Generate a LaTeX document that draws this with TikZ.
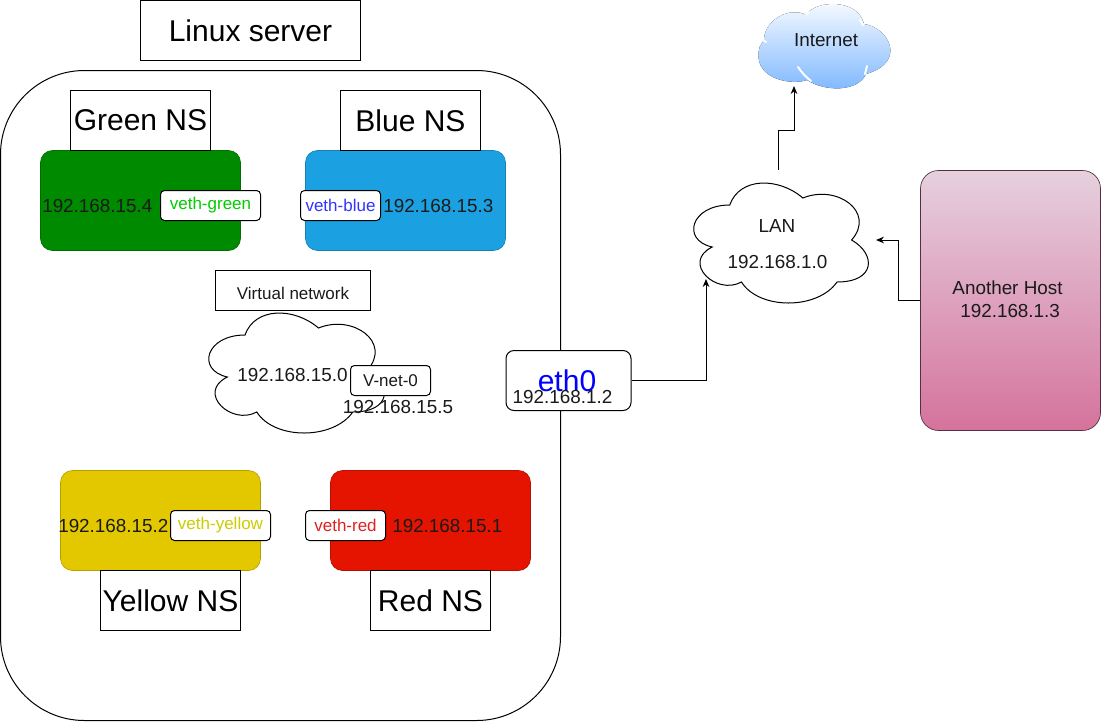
\documentclass[tikz,border=0pt]{standalone}
\usepackage{fontspec}
\setmainfont{Liberation Sans}
\usetikzlibrary{arrows.meta}
\definecolor{txt}{HTML}{1A1A1A}
\tikzset{
 x=0.75pt,y=-0.75pt,
 ln/.style={draw=black,line width=0.75pt},
 lbl/.style={text=txt,inner sep=0pt,font=\fontsize{14.15pt}{17pt}\selectfont},
 small/.style={font=\fontsize{12.75pt}{15pt}\selectfont},
 titlebox/.style={ln,fill=white,minimum width=#1*0.75pt,minimum height=45pt,inner sep=0pt,font=\fontsize{22.5pt}{26pt}\selectfont},
 ns/.style={draw=#1!80!black,line width=0.5pt,fill=#1,rounded corners=9pt},
 veth/.style={ln,fill=white,rounded corners=3pt,minimum width=60pt,minimum height=22.5pt,inner sep=0pt,small},
 arr/.style={ln,-{Stealth[length=6pt,width=5pt]}}
}
\definecolor{nsgreen}{HTML}{008A00}
\definecolor{nsblue}{HTML}{1BA1E2}
\definecolor{nsyellow}{HTML}{E3C800}
\definecolor{nsred}{HTML}{E51400}
\definecolor{inkblue}{HTML}{0000FF}
\definecolor{cloudtop}{HTML}{FBFDFF}
\definecolor{cloudbot}{HTML}{7DB7FF}
\definecolor{pinktop}{HTML}{E6D0DE}
\definecolor{pinkbot}{HTML}{D5739D}
% cloud path: #1 x0, #2 y0, #3 w, #4 h
\newcommand{\cloudpath}[4]{
 ({#1+.25*#3},{#2+.25*#4})
 .. controls ({#1+.05*#3},{#2+.25*#4}) and ({#1},{#2+.5*#4}) .. ({#1+.16*#3},{#2+.55*#4})
 .. controls ({#1},{#2+.66*#4}) and ({#1+.18*#3},{#2+.9*#4}) .. ({#1+.31*#3},{#2+.8*#4})
 .. controls ({#1+.4*#3},{#2+#4}) and ({#1+.7*#3},{#2+#4}) .. ({#1+.8*#3},{#2+.8*#4})
 .. controls ({#1+#3},{#2+.8*#4}) and ({#1+#3},{#2+.6*#4}) .. ({#1+.875*#3},{#2+.5*#4})
 .. controls ({#1+#3},{#2+.3*#4}) and ({#1+.8*#3},{#2+.1*#4}) .. ({#1+.625*#3},{#2+.2*#4})
 .. controls ({#1+.5*#3},{#2+.05*#4}) and ({#1+.3*#3},{#2+.05*#4}) .. ({#1+.25*#3},{#2+.25*#4}) -- cycle}
\begin{document}
\begin{tikzpicture}
\useasboundingbox (0,0) rectangle (1102,722);
% Linux server
\draw[ln,fill=white,rounded corners=63pt] (0.5,70.5) rectangle (560.5,720.5);
\node[titlebox=220] (linux) at (250.5,30.5) {Linux server};
% namespaces
\draw[ns=nsgreen] (40.5,150.5) rectangle (240.5,250.5);
\draw[ns=nsblue] (305.5,150.5) rectangle (505.5,250.5);
\draw[ns=nsyellow] (60.5,470.5) rectangle (260.5,570.5);
\draw[ns=nsred] (330.5,470.5) rectangle (530.5,570.5);
\node[titlebox=140] (green) at (140.5,120.5) {Green NS};
\node[titlebox=140] (blue) at (410.5,120.5) {Blue NS};
\node[titlebox=140] (yellow) at (170.5,600.5) {Yellow NS};
\node[titlebox=120] (red) at (430.5,600.5) {Red NS};
\node[lbl,anchor=west] (ipg) at (42,206) {192.168.15.4};
\node[lbl,anchor=west] (ipb) at (383,206) {192.168.15.3};
\node[lbl,anchor=west] (ipy) at (58,526) {192.168.15.2};
\node[lbl,anchor=west] (ipr) at (392,526) {192.168.15.1};
\node[veth,minimum width=75pt,text={rgb,255:red,0;green,204;blue,0}] (vg) at (210.5,205.5) {veth-green};
\node[veth,text={rgb,255:red,51;green,51;blue,255}] (vb) at (340.5,205.5) {veth-blue};
\node[veth,minimum width=75pt,text={rgb,255:red,204;green,204;blue,0}] (vy) at (220.5,525.5) {veth-yellow};
\node[veth,text={rgb,255:red,224;green,32;blue,32}] (vr) at (345.5,525.5) {veth-red};
% virtual network
\node[ln,fill=white,minimum width=116.25pt,minimum height=30pt,inner sep=0pt,small,text=txt] (vn) at (293,290.5) {\raisebox{-7pt}[0pt][0pt]{Virtual network}};
\draw[ln,fill=white] \cloudpath{196}{300}{196}{140};
\node[lbl] (ipv) at (292.5,375) {192.168.15.0};
\node[veth,text=txt] (vnet) at (390.5,380.5) {V-net-0};
\node[lbl] (ipv5) at (398,407) {192.168.15.5};
% eth0
\node[ln,fill=white,rounded corners=6pt,minimum width=93.75pt,minimum height=45pt,inner sep=0pt] (eth) at (568.5,380.5) {};
\node[inner sep=0pt,text=inkblue,font=\fontsize{22.5pt}{26pt}\selectfont] (ethl) at (567,381) {eth0};
\node[lbl] (ethip) at (562.5,397) {192.168.1.2};
% LAN cloud
\draw[ln,fill=white] \cloudpath{681}{170}{195}{140};
\node[lbl] (lan) at (777,226) {LAN};
\node[lbl] (lanip) at (777.5,262) {192.168.1.0};
% Internet cloud
\fill[top color=cloudtop,bottom color=cloudbot]
 (764,40) .. controls (764,20) and (790,6) .. (806,15)
 .. controls (815,0) and (858,-2) .. (864,24)
 .. controls (888,27) and (908,62) .. (866,74)
 .. controls (858,92) and (825,92) .. (807,80)
 .. controls (790,86) and (750,78) .. (760,46) -- cycle;
\draw[white,line width=1.5pt,line cap=round] (798,67) .. controls (802,73) and (806,77) .. (811,81);
\draw[white,line width=1.5pt,line cap=round] (867,66) -- (865,74);
\draw[white,line width=1.5pt,line cap=round] (863,25) -- (860,20);
\draw[white,line width=1.5pt,line cap=round] (806,15) -- (809,12);
\draw[white,line width=1.5pt,line cap=round] (760,38) -- (766,42);
\node[lbl] (inet) at (826,40) {Internet};
% host
\node[draw=black!60!pinkbot,line width=0.5pt,top color=pinktop,bottom color=pinkbot,rounded corners=13.5pt,minimum width=135pt,minimum height=195pt,inner sep=0pt] (host) at (1010.5,300.5) {};
\node[lbl,align=center] (hostl) at (1007.5,299) {Another Host\\\ 192.168.1.3};
% connectors
\coordinate (lanin) at (706,279);
\coordinate (lanr) at (876,240);
\coordinate (inetin) at (794,86);
\coordinate (lanout) at (778,170);
\draw[arr] (eth.east) -| (lanin);
\draw[arr] (host.west) -- (898.5,300.5) |- (lanr);
\draw[arr] (lanout) -- (778,130.5) -- (794,130.5) -- (inetin);
\end{tikzpicture}
\end{document}
